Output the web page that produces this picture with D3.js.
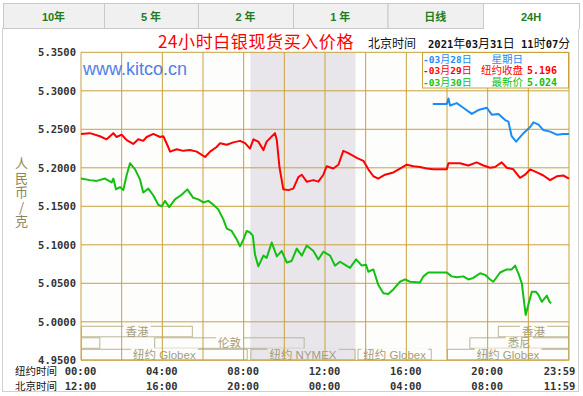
<!DOCTYPE html>
<html>
<head>
<meta charset="utf-8">
<script src="https://cdn.jsdelivr.net/npm/d3@7"></script>
<style>
body { margin: 0; background: #fff; }
svg { display: block; }
text { white-space: pre; }
</style>
</head>
<body>
<svg id="chart" width="583" height="396"></svg>
<script>
"use strict";

// ---- data ----
const tabLabels = ["10年", "5 年", "2 年", "1 年", "日线", "24H"];

const yTicks = [4.95, 5.00, 5.05, 5.10, 5.15, 5.20, 5.25, 5.30, 5.35];
const gridHours = [0, 2, 4, 6, 8, 10, 12, 14, 16, 18, 20, 22, 24];
const xTickHours = [0, 4, 8, 12, 16, 20, 24];
const nyLabels = ["00:00", "04:00", "08:00", "12:00", "16:00", "20:00", "23:59"];
const bjLabels = ["12:00", "16:00", "20:00", "00:00", "04:00", "08:00", "11:59"];

// NYMEX session (shaded)
const nymexStart = 8.33, nymexEnd = 13.5;

// market session bars: row, start hour, end hour, name
const sessionRows   = [0, 0, 1, 1, 1, 2, 2, 2, 2];
const sessionStarts = [0, 20.5, 0, 3.6, 19.1, 0, 8.33, 13.6, 18];
const sessionEnds   = [5.5, 24, 0.95, 11, 24, 8.2, 13.5, 17.25, 24];
const sessionNames  = ["香港", "香港", "", "伦敦", "悉尼", "纽约 Globex", "纽约 NYMEX", "纽约 Globex", "纽约 Globex"];

// 03-28 (blue)
const blueHours  = [17.3, 17.99, 18.07, 18.15, 18.48, 18.8, 19.22, 19.54, 19.96, 20.2, 20.53, 20.86,
                    21.02, 21.18, 21.4, 21.76, 22.09, 22.25, 22.5, 22.74, 23.07, 23.4, 23.72, 24.0];
const blueValues = [5.283, 5.283, 5.290, 5.281, 5.284, 5.278, 5.270, 5.275, 5.278, 5.269, 5.270, 5.262,
                    5.260, 5.241, 5.234, 5.245, 5.253, 5.259, 5.256, 5.249, 5.247, 5.243, 5.244, 5.244];

// 03-29 (red)
const redHours  = [0, 0.44, 0.93, 1.26, 1.59, 1.75, 2.0, 2.25, 2.57, 2.82, 3.06, 3.23,
                   3.56, 3.89, 4.05, 4.29, 4.38, 4.71, 5.03, 5.36, 5.69, 6.1, 6.35, 6.67,
                   6.84, 7.17, 7.49, 7.82, 8.07, 8.31, 8.48, 8.72, 8.97, 9.13, 9.54, 9.63,
                   9.76, 9.95, 10.2, 10.44, 10.69, 10.86, 11.1, 11.43, 11.67, 11.92, 12.08, 12.41,
                   12.66, 12.9, 13.15, 13.56, 13.89, 14.13, 14.38, 14.62, 14.95, 15.36, 15.69, 16.02,
                   16.35, 16.67, 17.0, 17.33, 17.99, 18.07, 18.64, 19.05, 19.46, 19.79, 20.12, 20.36,
                   20.69, 20.94, 21.26, 21.59, 21.84, 22.09, 22.42, 22.74, 23.07, 23.4, 23.72, 24.0];
const redValues = [5.244, 5.245, 5.241, 5.237, 5.245, 5.240, 5.243, 5.236, 5.231, 5.237, 5.235, 5.240,
                   5.244, 5.240, 5.241, 5.227, 5.221, 5.224, 5.222, 5.223, 5.221, 5.214, 5.221, 5.227,
                   5.232, 5.230, 5.233, 5.235, 5.232, 5.225, 5.237, 5.234, 5.223, 5.234, 5.245, 5.236,
                   5.201, 5.172, 5.171, 5.173, 5.188, 5.191, 5.182, 5.184, 5.182, 5.191, 5.202, 5.199,
                   5.204, 5.222, 5.219, 5.213, 5.209, 5.198, 5.189, 5.186, 5.191, 5.194, 5.199, 5.204,
                   5.202, 5.201, 5.199, 5.198, 5.198, 5.206, 5.206, 5.203, 5.207, 5.203, 5.200, 5.201,
                   5.207, 5.200, 5.198, 5.187, 5.191, 5.198, 5.194, 5.190, 5.184, 5.189, 5.190, 5.186];

// 03-30 (green)
const greenHours  = [0, 0.44, 0.77, 1.18, 1.51, 1.59, 1.72, 1.92, 2.08, 2.25, 2.41, 2.66,
                     2.9, 3.06, 3.31, 3.56, 3.8, 3.97, 4.13, 4.34, 4.62, 4.95, 5.23, 5.52,
                     5.77, 6.02, 6.26, 6.51, 6.75, 7.0, 7.17, 7.41, 7.66, 7.82, 7.99, 8.15,
                     8.31, 8.45, 8.56, 8.72, 8.97, 9.13, 9.38, 9.63, 9.87, 10.12, 10.36, 10.61,
                     10.86, 11.1, 11.43, 11.67, 11.92, 12.25, 12.49, 12.74, 12.99, 13.23, 13.53, 13.81,
                     14.02, 14.13, 14.38, 14.62, 14.87, 15.11, 15.36, 15.69, 15.94, 16.18, 16.67, 16.84,
                     17.08, 17.99, 18.23, 18.48, 18.8, 19.05, 19.3, 19.63, 19.87, 20.12, 20.28, 20.61,
                     20.94, 21.18, 21.35, 21.51, 21.68, 21.79, 21.87, 22.0, 22.17, 22.38, 22.5, 22.66,
                     22.91, 23.04, 23.12];
const greenValues = [5.186, 5.184, 5.183, 5.186, 5.181, 5.186, 5.172, 5.175, 5.171, 5.191, 5.206, 5.198,
                     5.185, 5.168, 5.173, 5.164, 5.152, 5.150, 5.157, 5.149, 5.159, 5.165, 5.172, 5.161,
                     5.159, 5.155, 5.157, 5.152, 5.146, 5.133, 5.121, 5.118, 5.107, 5.098, 5.107, 5.118,
                     5.116, 5.112, 5.087, 5.072, 5.086, 5.083, 5.103, 5.085, 5.092, 5.077, 5.079, 5.095,
                     5.086, 5.099, 5.092, 5.081, 5.091, 5.086, 5.073, 5.078, 5.074, 5.070, 5.081, 5.073,
                     5.074, 5.065, 5.068, 5.048, 5.037, 5.036, 5.042, 5.052, 5.055, 5.052, 5.051, 5.059,
                     5.064, 5.064, 5.059, 5.058, 5.059, 5.055, 5.057, 5.063, 5.061, 5.055, 5.052, 5.064,
                     5.068, 5.068, 5.073, 5.063, 5.050, 5.026, 5.009, 5.022, 5.039, 5.039, 5.035, 5.026,
                     5.034, 5.026, 5.024];

const legendDates  = ["-03月28日", "-03月29日", "-03月30日"];
const legendNotes  = ["星期日", "纽约收盘", "最新价"];
const legendPrices = ["", "5.196", "5.024"];

// ---- styles ----
const mono = "'DejaVu Sans Mono', monospace";
const cjk = "'Noto Sans CJK SC', sans-serif";
const sans = "'Liberation Sans', Arial, sans-serif";
const gridColor = "#c9a23e";
const plotBg = "#fdfdfb";
const shadeColor = "#e9e6eb";
const seriesColors = ["#1a8cf5", "#ff0000", "#12c012"];

const svg = d3.select("#chart");
const plot = {left: 81, right: 569, top: 52.3, bottom: 360.3};

const x = d3.scaleLinear().domain([0, 24]).range([plot.left, plot.right]);
const y = d3.scaleLinear().domain([4.95, 5.35]).range([plot.bottom, plot.top]);

// text with ascii runs in one font and CJK runs in another
function mixedText(g, str, o) {
    const t = g.append("text")
        .attr("x", o.x).attr("y", o.y)
        .attr("fill", o.color)
        .attr("text-anchor", o.anchor || "start");
    str.match(/[\x00-\x7f]+|[^\x00-\x7f]+/g).forEach(run => {
        const ascii = /^[\x00-\x7f]/.test(run);
        t.append("tspan").text(run)
            .attr("font-family", ascii ? (o.asciiFont || mono) : cjk)
            .attr("font-size", ascii ? o.asciiSize : o.cjkSize)
            .attr("font-weight", ascii ? (o.asciiWeight || "bold") : "normal");
    });
    return t;
}

// ---- frame and tabs ----
svg.append("rect")
    .attr("x", 2.5).attr("y", 28.5).attr("width", 576).attr("height", 363)
    .attr("fill", "#fff").attr("stroke", "#d0d0d0");

const tabEdges = [3, 104, 198, 293, 387.5, 483, 579];
const tabs = svg.append("g");
tabLabels.forEach((label, i) => {
    const x0 = tabEdges[i], x1 = tabEdges[i + 1];
    const active = i === tabLabels.length - 1;
    tabs.append("rect")
        .attr("x", x0 + 0.5).attr("y", 3.5)
        .attr("width", x1 - x0).attr("height", 25)
        .attr("fill", active ? "#fff" : "#f0f0f0")
        .attr("stroke", "#c8c8c8");
    if (active) {
        tabs.append("line")
            .attr("x1", x0 + 1).attr("x2", x1)
            .attr("y1", 28.5).attr("y2", 28.5)
            .attr("stroke", "#fff");
    }
    tabs.append("text")
        .attr("x", (x0 + x1) / 2).attr("y", 20.5)
        .attr("text-anchor", "middle")
        .attr("font-family", "'Liberation Sans', 'Noto Sans CJK SC', sans-serif")
        .attr("font-weight", "bold")
        .attr("font-size", 11)
        .attr("fill", "#1e7d1e")
        .text(label);
});

// ---- plot background and NYMEX shade ----
svg.append("rect")
    .attr("x", plot.left).attr("y", plot.top)
    .attr("width", plot.right - plot.left).attr("height", plot.bottom - plot.top)
    .attr("fill", plotBg);

svg.append("rect")
    .attr("x", x(nymexStart)).attr("y", plot.top)
    .attr("width", x(nymexEnd) - x(nymexStart)).attr("height", plot.bottom - plot.top)
    .attr("fill", shadeColor);

// ---- market sessions ----
const rowTop = r => y(5.00) + 4 + r * 11.5;
const sess = svg.append("g");
sessionNames.forEach((name, i) => {
    const x0 = x(sessionStarts[i]), x1 = x(sessionEnds[i]);
    const top = rowTop(sessionRows[i]);
    sess.append("rect")
        .attr("x", x0 + 0.5).attr("y", top + 0.5)
        .attr("width", x1 - x0 - 1).attr("height", 10.5)
        .attr("fill", "none")
        .attr("stroke", "#bcb595");
    if (!name) return;
    const mid = (x0 + x1) / 2;
    const label = mixedText(sess, name, {
        x: mid, y: top + 10, color: "#a39d7c", anchor: "middle",
        asciiFont: sans, asciiSize: 11.5, asciiWeight: "normal", cjkSize: 11.5
    });
    const bb = label.node().getBBox();
    const inShade = mid > x(nymexStart) && mid < x(nymexEnd);
    sess.insert("rect", () => label.node())
        .attr("x", bb.x - 2).attr("y", top - 0.5)
        .attr("width", bb.width + 4).attr("height", 2.5)
        .attr("fill", inShade ? shadeColor : plotBg);
});

// ---- grid ----
const grid = svg.append("g").attr("stroke", gridColor).attr("stroke-width", 1);
grid.selectAll("line.h").data(yTicks).join("line")
    .attr("class", "h")
    .attr("x1", plot.left).attr("x2", plot.right)
    .attr("y1", d => y(d)).attr("y2", d => y(d));
grid.selectAll("line.v").data(gridHours).join("line")
    .attr("class", "v")
    .attr("x1", d => x(d)).attr("x2", d => x(d))
    .attr("y1", plot.top).attr("y2", plot.bottom);

// ---- axes ----
svg.append("g")
    .attr("transform", `translate(${plot.left},0)`)
    .call(d3.axisLeft(y).tickValues(yTicks).tickFormat(d3.format(".4f")).tickSize(0).tickPadding(5))
    .call(g => g.select(".domain").remove())
    .call(g => g.selectAll("text")
        .attr("font-family", mono).attr("font-weight", "bold")
        .attr("font-size", 10.5).attr("fill", "#333"));

function timeAxis(labels, cy) {
    svg.append("g")
        .attr("transform", `translate(0,${cy})`)
        .call(d3.axisBottom(x).tickValues(xTickHours).tickFormat((d, i) => labels[i]).tickSize(0))
        .call(g => g.select(".domain").remove())
        .call(g => g.selectAll("text")
            .attr("y", 0).attr("dy", "0.36em")
            .attr("dx", d => d === 24 ? -10 : -1)
            .attr("font-family", mono).attr("font-weight", "bold")
            .attr("font-size", 10.5).attr("fill", "#333"));
}
timeAxis(nyLabels, 371);
timeAxis(bjLabels, 386);

svg.append("text").attr("x", 15).attr("y", 375)
    .attr("font-family", cjk).attr("font-size", 10.5).attr("fill", "#111").text("纽约时间");
svg.append("text").attr("x", 15).attr("y", 390)
    .attr("font-family", cjk).attr("font-size", 10.5).attr("fill", "#111").text("北京时间");

// y axis title, written vertically
svg.append("text")
    .attr("x", 21.5).attr("y", 157)
    .attr("writing-mode", "vertical-rl")
    .style("text-orientation", "upright")
    .attr("letter-spacing", 1.5)
    .attr("font-family", cjk).attr("font-size", 13)
    .attr("fill", "#8c8656")
    .text("人民币/克");

// ---- series ----
const line = d3.line().x(d => x(d[0])).y(d => y(d[1]));
const series = [
    d3.zip(blueHours, blueValues),
    d3.zip(redHours, redValues),
    d3.zip(greenHours, greenValues)
];
svg.append("g").selectAll("path").data(series).join("path")
    .attr("d", line)
    .attr("fill", "none")
    .attr("stroke", (d, i) => seriesColors[i])
    .attr("stroke-width", 2)
    .attr("stroke-linejoin", "round");

// ---- header texts ----
svg.append("text").attr("x", 158).attr("y", 47.5)
    .attr("font-family", cjk).attr("font-size", 17).attr("letter-spacing", 0.6)
    .attr("fill", "#ff0000").text("24小时白银现货买入价格");

svg.append("text").attr("x", 368).attr("y", 48)
    .attr("font-family", cjk).attr("font-size", 12).attr("fill", "#111").text("北京时间");
mixedText(svg, "2021年03月31日 11时07分", {x: 428, y: 48, color: "#111", asciiSize: 10.5, cjkSize: 12});

svg.append("text").attr("x", 83).attr("y", 75)
    .attr("font-family", sans).attr("font-size", 18)
    .attr("fill", "#4f80ea").text("www.kitco.cn");

// ---- legend ----
const lg = svg.append("g");
lg.append("rect")
    .attr("x", 422.5).attr("y", 52.5).attr("width", 146).attr("height", 35.5)
    .attr("fill", "#fff").attr("stroke", gridColor);
legendDates.forEach((d, i) => {
    const by = 62.5 + i * 11.5;
    mixedText(lg, d, {x: 423, y: by, color: seriesColors[i], asciiSize: 9.5, cjkSize: 10});
    lg.append("text").attr("x", 523).attr("y", by)
        .attr("text-anchor", "end")
        .attr("font-family", cjk).attr("font-size", 10.5)
        .attr("fill", seriesColors[i]).text(legendNotes[i]);
    if (legendPrices[i]) {
        lg.append("text").attr("x", 527).attr("y", by)
            .attr("font-family", mono).attr("font-weight", "bold").attr("font-size", 10)
            .attr("fill", seriesColors[i]).text(legendPrices[i]);
    }
});
</script>
</body>
</html>
